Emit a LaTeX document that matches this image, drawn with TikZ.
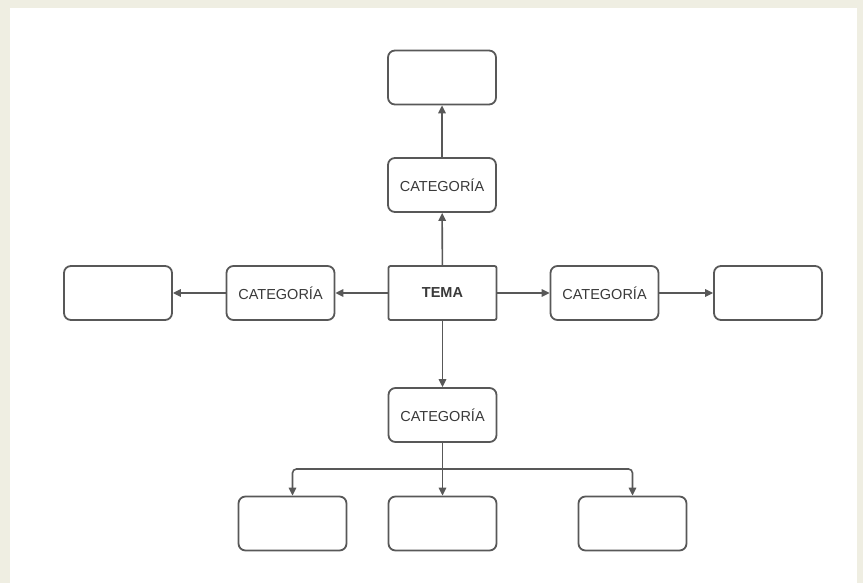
\documentclass[tikz,border=0pt]{standalone}
\usepackage{fontspec}
\setmainfont{Liberation Sans}
\usetikzlibrary{arrows.meta}
\definecolor{bgbeige}{HTML}{EFEEE2}
\definecolor{strokegray}{HTML}{585858}
\definecolor{txtgray}{HTML}{3A3A3A}
\begin{document}
\begin{tikzpicture}[x=1pt,y=-1pt,
  box/.style={draw=strokegray,line width=1.8pt,rounded corners=7pt,minimum width=108pt,minimum height=54pt,inner sep=0pt,fill=white,text=txtgray,font=\fontsize{14.5}{16}\selectfont},
  temabox/.style={box,rounded corners=2pt,font=\fontsize{14.5}{16}\selectfont\bfseries},
  conn/.style={draw=strokegray,line width=1.6pt,-{Triangle[length=8pt,width=7.5pt]}}]
\useasboundingbox (0,0) rectangle (863,583);
\fill[bgbeige] (0,0) rectangle (863,583);
\fill[white] (10,8) rectangle (857,583);
\node[temabox] (tema) at (442.5,293) {TEMA};
\node[box] (catT) at (442,185) {CATEGORÍA};
\node[box] (boxT) at (442,77.5) {};
\node[box] (catL) at (280.5,293) {CATEGORÍA};
\node[box] (boxL) at (118,293) {};
\node[box] (catR) at (604.5,293) {CATEGORÍA};
\node[box] (boxR) at (768,293) {};
\node[box] (catB) at (442.5,415) {CATEGORÍA};
\node[box] (boxB1) at (292.5,523.5) {};
\node[box] (boxB2) at (442.5,523.5) {};
\node[box] (boxB3) at (632.5,523.5) {};
\coordinate (bus) at (442.5,469);
\draw[conn] (tema) -- (catT);
\draw[conn] (catT) -- (boxT);
\draw[conn] (tema) -- (catL);
\draw[conn] (catL) -- (boxL);
\draw[conn] (tema) -- (catR);
\draw[conn] (catR) -- (boxR);
\draw[conn] (tema) -- (catB);
\draw[draw=strokegray,line width=1.6pt] (catB) -- (bus);
\draw[conn,rounded corners=4pt] (bus) -| (boxB1);
\draw[conn] (bus) -- (boxB2);
\draw[conn,rounded corners=4pt] (bus) -| (boxB3);
\end{tikzpicture}
\end{document}
